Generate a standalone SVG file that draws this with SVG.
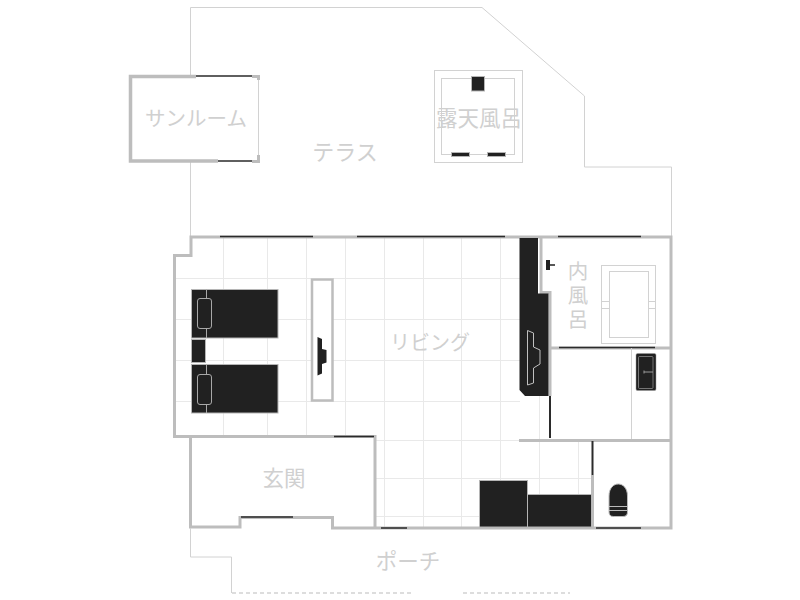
<svg xmlns="http://www.w3.org/2000/svg" width="800" height="600" viewBox="0 0 800 600">
<style>
.grid{stroke:#e9e9e9;stroke-width:1;fill:none}
.thin{stroke:#d2d2d2;stroke-width:1;fill:none}
.wall{stroke:#bdbdbd;stroke-width:3;fill:none;stroke-linejoin:miter}
.win{stroke:#2b2b2b;stroke-width:1.500;fill:none}
.dark{fill:#212121;stroke:#b5b5b5;stroke-width:1}
.line{fill:none;stroke:#a8a8a8;stroke-width:1}
text{font-family:"Noto Sans CJK JP","Noto Sans",sans-serif;font-size:21.5px;fill:#d0d0d0;text-anchor:middle}
</style>
<rect width="800" height="600" fill="#fff"/>
<g id="grid">
<path class="grid" d="M223.500 238V436M267.500 238V436M306.500 238V436M345.500 238V436M384.500 238V527M423.500 238V527M461.500 238V527M500.500 238V527M539.500 396V527M578.500 440V527"/>
<path class="grid" d="M175 278.500H311M333 278.500H520M175 319.500H520M175 360.500H520M175 401.500H520M375 440.500H520M375 478.500H592M375 516.500H480"/>
</g>
<g id="terrace">
<path class="thin" d="M190.500 76V7.500H482L584.500 96V167H671.500V237M190.500 161V237"/>
<text x="345" y="160" style="font-size:22px">テラス</text>
</g>
<g id="sunroom">
<path class="wall" style="stroke-width:3.500" d="M196 76.500H130.500V161H218"/>
<path class="win" d="M196 76H252M218 161H252"/>
<path class="thin" d="M258.500 76V161"/>
<path fill="#bdbdbd" d="M252 75H260V80H257V78H252ZM252 160H257V155H260V163H252Z"/>
<text x="196" y="125.500" style="font-size:20.500px">サンルーム</text>
</g>
<g id="rotenburo">
<rect class="thin" x="434.500" y="70.500" width="88" height="92"/>
<rect class="thin" x="441.500" y="78.500" width="73" height="76"/>
<rect class="dark" x="471.500" y="76.500" width="13" height="14.500"/>
<rect class="dark" x="451.500" y="152.500" width="18" height="4"/>
<rect class="dark" x="487.500" y="152.500" width="18" height="4"/>
<text x="479" y="125.500">露天風呂</text>
</g>
<g id="walls">
<path class="wall" d="M375 528V436.500H174.500V255.500H191V237H671V528H332.500V517.500H240V527H190.500V436.500"/>
<path class="wall" d="M541 237V292.500H550V396M550 348H671M519 440.500H671M592.500 475V528"/>
<path class="win" d="M220 236.500H313M357 236.500H505M558 236.500H641M334 436.500H374M241 517H293M381 528H407M596 528H641M559 347.500H655"/>
<path class="win" style="stroke-width:2" d="M550 396V438M592.500 441V475"/>
<path class="thin" d="M631.500 348V439"/>
</g>
<g id="porch">
<path class="thin" d="M190.500 528V557H231.500V593"/>
<path d="M232 593H411M463 593H570" stroke="#bbb" stroke-width="1" stroke-dasharray="4 3" fill="none"/>
<text x="408" y="568.500">ポーチ</text>
</g>
<g id="beds">
<rect class="dark" x="191.500" y="289.500" width="86.500" height="48.500"/>
<path class="line" d="M206.500 289.500V338"/>
<rect x="197.500" y="298.500" width="14" height="30" rx="2.500" fill="#212121" stroke="#a8a8a8"/>
<rect class="dark" x="191.500" y="339.500" width="14" height="23"/>
<rect class="dark" x="191.500" y="364.500" width="86.500" height="48.500"/>
<path class="line" d="M206.500 364.500V413"/>
<rect x="197.500" y="374.500" width="14" height="30" rx="2.500" fill="#212121" stroke="#a8a8a8"/>
</g>
<g id="tv-board">
<rect x="312" y="279.500" width="20.500" height="121" fill="#fff" stroke="#bdbdbd" stroke-width="2.500"/>
<path fill="#212121" d="M317.500 337L322 339V349L326.500 350V362.500L322 364V373.500L317.500 375.500Z"/>
</g>
<g id="counter">
<path fill="#212121" d="M519.500 238H538V293.500H548.500V396H525L519.500 390Z"/>
<path fill="none" stroke="#c0c0c0" d="M527.500 330.500L533.500 333V347L540 350V364L533.500 368V383L527.500 385Z"/>
</g>
<g id="living"><text x="430" y="349.500" style="font-size:20px">リビング</text></g>
<g id="genkan"><text x="284" y="485.500">玄関</text></g>
<g id="bath">
<rect class="thin" x="601.500" y="265.500" width="54" height="78"/>
<rect class="thin" x="609.500" y="271.500" width="39" height="66"/>
<rect class="thin" x="601.500" y="301.500" width="8" height="7"/>
<rect class="thin" x="648.500" y="301.500" width="7" height="7"/>
<path fill="#212121" d="M546 260H550V270H546Z"/>
<path stroke="#212121" stroke-width="1.500" d="M550 265H555"/>
<text x="578" y="261" style="font-size:20.500px;writing-mode:vertical-rl;text-anchor:start;letter-spacing:3.500px">内風呂</text>
</g>
<g id="washroom">
<rect x="636" y="353.500" width="20" height="37" rx="1.500" fill="#212121" stroke="#999" stroke-width=".5"/>
<rect x="638.500" y="356.500" width="14.500" height="32" rx="1" fill="none" stroke="#999" stroke-width=".7"/>
<path fill="none" stroke="#999" d="M644 372H653M644 370.500V373.500"/>
</g>
<g id="storage">
<rect class="dark" x="479.500" y="480.500" width="48" height="46.500"/>
<rect class="dark" x="527.500" y="494.500" width="64" height="32.500"/>
</g>
<g id="toilet">
<path fill="#212121" stroke="#bbb" d="M609 512V496C609 480 627.500 480 627.500 496V512Q627.500 516.500 623 516.500H613.500Q609 516.500 609 512Z"/>
<path stroke="#bbb" d="M609 506.500H627.500M609 510.500H627.500"/>
</g>
</svg>
